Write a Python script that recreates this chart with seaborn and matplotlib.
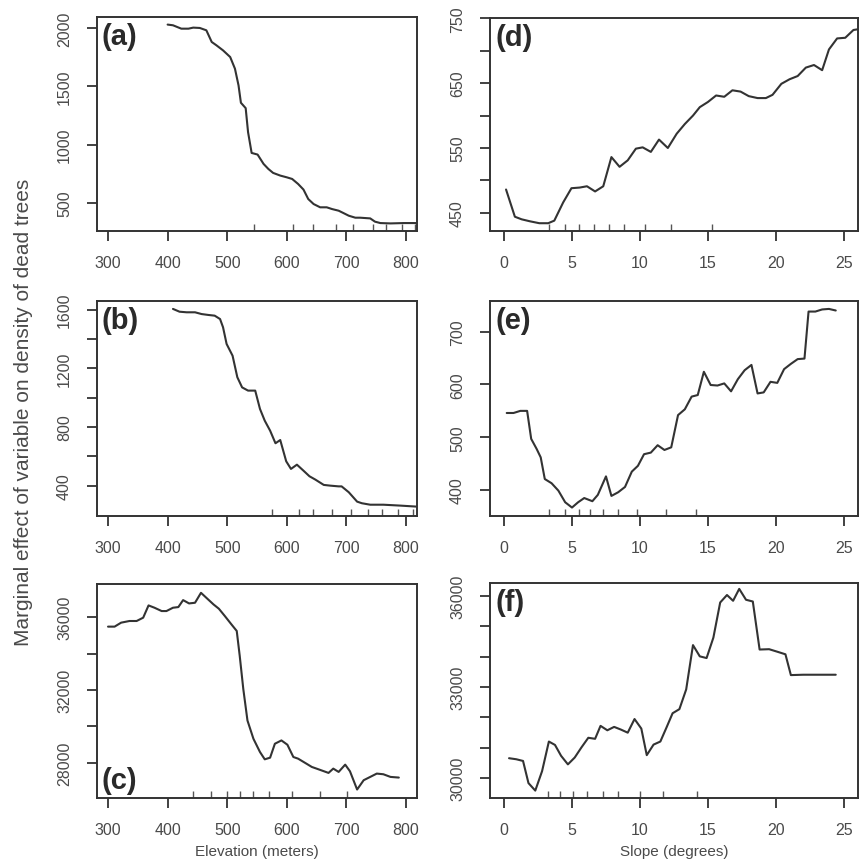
import matplotlib
matplotlib.use("Agg")
import matplotlib.pyplot as plt
import seaborn as sns
import pandas as pd

# ---- partial dependence curves: elevation (m) ----
elev_a = [400, 409, 423, 435, 443, 454, 465, 474, 482, 493, 505, 513, 519, 523, 531,
          535, 541, 551, 561, 569, 577, 589, 600, 609, 619, 628, 636, 645, 656, 667,
          676, 687, 695, 704, 715, 723, 740, 748, 757, 774, 796, 820]
dens_a = [2029, 2023, 1994, 1994, 2003, 2000, 1980, 1880, 1851, 1808, 1751, 1651, 1508,
          1359, 1313, 1107, 929, 915, 835, 792, 758, 735, 720, 706, 663, 615, 534, 491,
          463, 463, 448, 434, 414, 391, 374, 374, 368, 340, 328, 325, 328, 328]
rug_a = [545, 610, 644, 683, 711, 745, 766, 793, 815]

elev_b = [409, 420, 432, 446, 457, 468, 479, 488, 493, 499, 509, 517, 525, 535, 547,
          555, 563, 572, 581, 589, 599, 607, 617, 628, 638, 648, 662, 673, 687, 692,
          704, 718, 726, 740, 762, 790, 818]
dens_b = [1605, 1586, 1582, 1582, 1570, 1564, 1559, 1536, 1480, 1366, 1286, 1139, 1070,
          1048, 1048, 923, 843, 775, 689, 711, 566, 514, 543, 502, 464, 441, 405, 400,
          395, 395, 355, 291, 280, 270, 270, 264, 257]
rug_b = [575, 620, 644, 676, 708, 736, 760, 787, 812]

elev_c = [300, 311, 322, 336, 348, 359, 368, 378, 390, 398, 409, 418, 426, 436, 446,
          456, 465, 477, 486, 496, 507, 516, 521, 527, 534, 544, 555, 563, 572, 580,
          591, 601, 611, 619, 631, 642, 653, 670, 678, 687, 698, 706, 718, 729, 740,
          751, 762, 774, 788]
dens_c = [35473, 35473, 35691, 35782, 35782, 35964, 36636, 36509, 36327, 36327, 36509,
          36545, 36927, 36745, 36782, 37327, 37054, 36691, 36455, 36055, 35600, 35236,
          33873, 32055, 30327, 29327, 28600, 28200, 28291, 29054, 29236, 29000, 28327,
          28236, 28000, 27782, 27655, 27455, 27691, 27509, 27909, 27545, 26545, 27055,
          27236, 27418, 27382, 27236, 27200]
rug_c = [443, 473, 500, 522, 543, 570, 609, 656, 701]

# ---- partial dependence curves: slope (degrees) ----
slope_d = [0.15, 0.8, 1.3, 1.9, 2.6, 3.25, 3.7, 4.35, 4.96, 5.57, 6.1, 6.7, 7.3, 7.9,
           8.5, 9.1, 9.7, 10.2, 10.8, 11.4, 12.05, 12.7, 13.3, 13.9, 14.4, 15.0, 15.6,
           16.2, 16.8, 17.4, 18.0, 18.65, 19.26, 19.75, 20.4, 21.0, 21.6, 22.2, 22.8,
           23.4, 23.9, 24.5, 25.1, 25.7, 26.0]
dens_d = [486, 444, 440, 437, 434, 434, 438, 466, 488, 489, 491, 483, 491, 536, 521,
          531, 549, 551, 544, 563, 550, 572, 587, 600, 613, 621, 631, 629, 639, 637,
          630, 627, 627, 632, 649, 656, 661, 674, 678, 670, 702, 719, 720, 732, 733]
rug_d = [3.3, 4.5, 5.5, 6.6, 7.7, 8.8, 10.4, 12.3, 15.3]

slope_e = [0.2, 0.7, 1.2, 1.7, 2.0, 2.4, 2.7, 3.0, 3.5, 4.0, 4.5, 5.0, 5.45, 5.9, 6.5,
           6.9, 7.5, 7.9, 8.4, 8.9, 9.4, 9.85, 10.3, 10.8, 11.3, 11.8, 12.3, 12.8, 13.3,
           13.8, 14.25, 14.7, 15.2, 15.7, 16.2, 16.7, 17.2, 17.7, 18.2, 18.65, 19.1,
           19.6, 20.1, 20.6, 21.1, 21.6, 22.1, 22.4, 22.9, 23.4, 23.9, 24.4]
dens_e = [546, 546, 550, 550, 497, 478, 462, 421, 413, 399, 377, 367, 377, 385, 379,
          391, 426, 389, 396, 406, 435, 446, 468, 471, 485, 476, 481, 542, 553, 577,
          580, 624, 599, 598, 602, 587, 610, 627, 637, 583, 585, 605, 603, 629, 639,
          648, 649, 738, 738, 742, 743, 740]
rug_e = [3.3, 4.5, 5.5, 6.3, 7.3, 8.4, 9.8, 11.9, 14.1]

slope_f = [0.37, 0.9, 1.4, 1.8, 2.3, 2.8, 3.3, 3.75, 4.2, 4.7, 5.2, 5.7, 6.2, 6.7, 7.1,
           7.6, 8.1, 8.6, 9.1, 9.6, 10.1, 10.5, 11.0, 11.5, 11.95, 12.4, 12.9, 13.4,
           13.9, 14.4, 14.9, 15.4, 15.9, 16.4, 16.85, 17.3, 17.8, 18.3, 18.8, 19.5,
           20.15, 20.7, 21.1, 22.0, 23.2, 24.4]
dens_f = [30652, 30618, 30562, 29831, 29584, 30225, 31202, 31090, 30730, 30449, 30674,
          31011, 31326, 31292, 31719, 31573, 31685, 31596, 31494, 31944, 31629, 30753,
          31101, 31202, 31663, 32135, 32270, 32921, 34382, 34011, 33955, 34629, 35787,
          36034, 35843, 36236, 35877, 35820, 34236, 34247, 34157, 34079, 33393, 33405,
          33405, 33405]
rug_f = [3.2, 4.1, 5.1, 6.1, 7.3, 8.4, 10.0, 11.7, 14.2]

# ---- axis ticks and labels ----
elev_ticks = [300, 400, 500, 600, 700, 800]
slope_ticks = [0, 5, 10, 15, 20, 25]
yticks_a = [500, 1000, 1500, 2000]
ylabels_a = ["500", "1000", "1500", "2000"]
yticks_b = [400, 600, 800, 1000, 1200, 1400, 1600]
ylabels_b = ["400", "", "800", "", "1200", "", "1600"]
yticks_c = [28000, 30000, 32000, 34000, 36000]
ylabels_c = ["28000", "", "32000", "", "36000"]
yticks_d = [450, 500, 550, 600, 650, 700, 750]
ylabels_d = ["450", "", "550", "", "650", "", "750"]
yticks_e = [400, 500, 600, 700]
ylabels_e = ["400", "500", "600", "700"]
yticks_f = [30000, 31000, 32000, 33000, 34000, 35000, 36000]
ylabels_f = ["30000", "", "", "33000", "", "", "36000"]

sns.set_style("white")
plt.rcParams["font.family"] = ["Liberation Sans", "DejaVu Sans"]

INK = "#333333"
TXT = "#4a4a4a"

fig = plt.figure(figsize=(8.59, 8.62), dpi=100)

W, H = 859.0, 862.0
def box(l, t, r, b):
    return [l / W, 1 - b / H, (r - l) / W, (b - t) / H]

panels = [
    dict(rect=box(97, 18, 417, 232), x=elev_a, y=dens_a, rug=rug_a, xlim=(281.5, 818.5),
         ylim=(260, 2094), xt=elev_ticks, yt=yticks_a, yl=ylabels_a, tag="(a)", top=True),
    dict(rect=box(97, 302, 417, 517), x=elev_b, y=dens_b, rug=rug_b, xlim=(281.5, 818.5),
         ylim=(193, 1659), xt=elev_ticks, yt=yticks_b, yl=ylabels_b, tag="(b)", top=True),
    dict(rect=box(97, 585, 417, 799), x=elev_c, y=dens_c, rug=rug_c, xlim=(281.5, 818.5),
         ylim=(26080, 37810), xt=elev_ticks, yt=yticks_c, yl=ylabels_c, tag="(c)", top=False),
    dict(rect=box(490, 19, 857.5, 232), x=slope_d, y=dens_d, rug=rug_d, xlim=(-1.03, 26.0),
         ylim=(422, 750.5), xt=slope_ticks, yt=yticks_d, yl=ylabels_d, tag="(d)", top=True),
    dict(rect=box(490, 302, 857.5, 517), x=slope_e, y=dens_e, rug=rug_e, xlim=(-1.03, 26.0),
         ylim=(351, 758), xt=slope_ticks, yt=yticks_e, yl=ylabels_e, tag="(e)", top=True),
    dict(rect=box(490, 584, 857.5, 799), x=slope_f, y=dens_f, rug=rug_f, xlim=(-1.03, 26.0),
         ylim=(29340, 36430), xt=slope_ticks, yt=yticks_f, yl=ylabels_f, tag="(f)", top=True),
]

for p in panels:
    ax = fig.add_axes(p["rect"])
    df = pd.DataFrame({"x": p["x"], "y": p["y"]})
    sns.lineplot(data=df, x="x", y="y", ax=ax, color=INK, linewidth=1.5,
                 sort=False, estimator=None)
    sns.rugplot(x=p["rug"], ax=ax, height=0.033, color="#555555", linewidth=1.0,
                expand_margins=False)
    ax.set_xlim(*p["xlim"])
    ax.set_ylim(*p["ylim"])
    ax.set_xticks(p["xt"])
    ax.set_xticklabels([str(v) for v in p["xt"]])
    ax.set_yticks(p["yt"])
    ax.set_yticklabels(p["yl"], rotation=90, va="center")
    ax.set_xlabel("")
    ax.set_ylabel("")
    for s in ax.spines.values():
        s.set_visible(True)
        s.set_color(INK)
        s.set_linewidth(1.4)
    ax.tick_params(axis="x", direction="out", length=7, width=1.3, color=INK,
                   pad=10, labelsize=11.5, labelcolor=TXT, bottom=True)
    ax.tick_params(axis="y", direction="out", length=7, width=1.3, color=INK,
                   pad=11, labelsize=11.5, labelcolor=TXT, left=True)
    ax.grid(False)
    if p["top"]:
        ax.text(0.015, 0.975, p["tag"], transform=ax.transAxes, ha="left", va="top",
                fontsize=21, fontweight="bold", color="#2a2a2a")
    else:
        ax.text(0.015, 0.02, p["tag"], transform=ax.transAxes, ha="left", va="bottom",
                fontsize=21, fontweight="bold", color="#2a2a2a")

fig.text(257 / W, 1 - 852 / H, "Elevation (meters)", ha="center", va="center",
         fontsize=11, color=TXT)
fig.text(674 / W, 1 - 852 / H, "Slope (degrees)", ha="center", va="center",
         fontsize=11, color=TXT)
fig.text(24 / W, 1 - 412 / H, "Marginal effect of variable on density of dead trees",
         ha="center", va="center", rotation=90, fontsize=15, color=TXT)

fig.savefig("out.png", dpi=100)
